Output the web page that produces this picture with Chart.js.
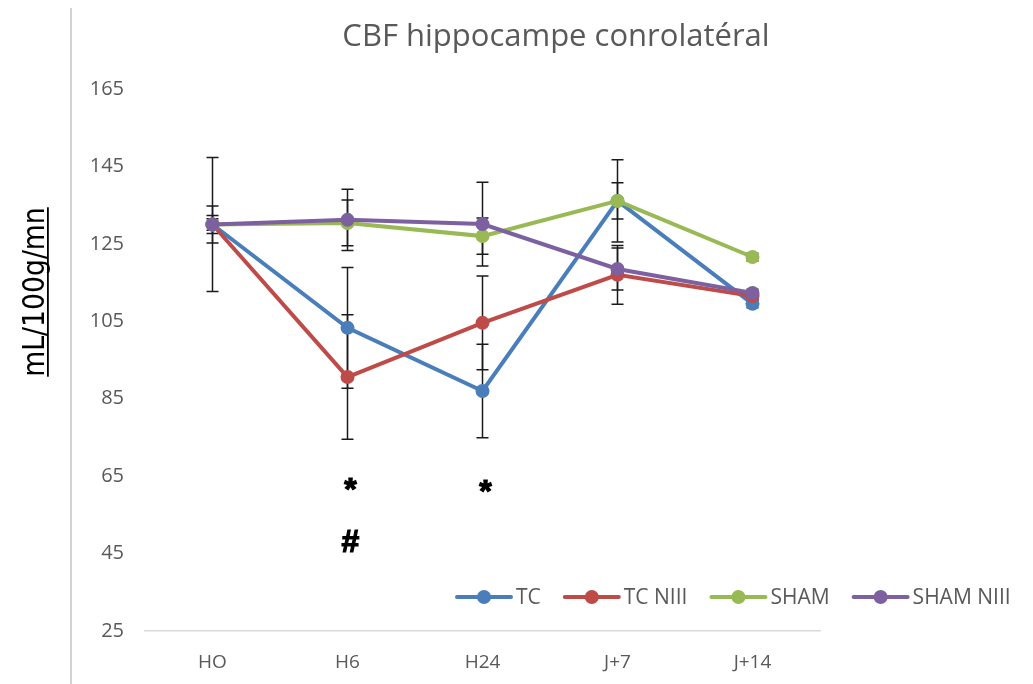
<!DOCTYPE html>
<html>
<head>
<meta charset="utf-8">
<script src="https://cdn.jsdelivr.net/npm/chart.js@4.4.1/dist/chart.umd.min.js"></script>
<style>
  body { margin: 0; background: #fff; }
  canvas { display: block; }
</style>
</head>
<body>
<canvas id="myChart" width="1033" height="684"></canvas>
<script>
// data
const categories = ['HO', 'H6', 'H24', 'J+7', 'J+14'];
const seriesNames = ['TC', 'TC NIII', 'SHAM', 'SHAM NIII'];
const tcValues = [130, 103.3, 87, 136.1, 109.5];
const tcNiiiValues = [130, 90.6, 104.6, 117, 111.5];
const shamValues = [130, 130.4, 127, 136.1, 121.6];
const shamNiiiValues = [130, 131.2, 130.1, 118.5, 112.3];
// +/- error for each point
const tcErrors = [17.3, 15.6, 12.1, 10.6, 1];
const tcNiiiErrors = [4.8, 16.1, 12.1, 7.6, 1];
const shamErrors = [2.3, 5.9, 4.7, 4.7, 1];
const shamNiiiErrors = [1.5, 7.9, 10.8, 5.4, 1];
const yTicks = [25, 45, 65, 85, 105, 125, 145, 165];
// significance marks under the points
const marks = ['*', '#', '*'];
const markCategories = ['H6', 'H6', 'H24'];
const markValues = [61.2, 47.8, 60.5];

const chartTitle = 'CBF hippocampe conrolatéral';
const yTitle = 'mL/100g/mn';
const colors = ['#4a7ebb', '#be4b48', '#98b954', '#7d60a0'];
const grey = '#595959';

const allValues = [tcValues, tcNiiiValues, shamValues, shamNiiiValues];
const allErrors = [tcErrors, tcNiiiErrors, shamErrors, shamNiiiErrors];

const data = {
  labels: categories,
  datasets: seriesNames.map((name, i) => ({
    label: name,
    data: allValues[i],
    errors: allErrors[i],
    borderColor: colors[i],
    backgroundColor: colors[i],
    pointBackgroundColor: colors[i],
    pointBorderColor: colors[i],
    borderWidth: 4,
    pointRadius: 7,
    pointBorderWidth: 0,
    tension: 0,
    order: 4 - i
  }))
};

// error bars, drawn under the lines
const errorBars = {
  id: 'errorBars',
  beforeDatasetsDraw(chart) {
    const ctx = chart.ctx;
    const x = chart.scales.x, y = chart.scales.y;
    ctx.save();
    ctx.strokeStyle = '#1a1a1a';
    ctx.lineWidth = 1.5;
    chart.data.datasets.forEach(ds => {
      ds.data.forEach((v, j) => {
        const px = x.getPixelForValue(j);
        const top = y.getPixelForValue(v + ds.errors[j]);
        const bot = y.getPixelForValue(v - ds.errors[j]);
        ctx.beginPath();
        ctx.moveTo(px, top); ctx.lineTo(px, bot);
        ctx.moveTo(px - 6, top); ctx.lineTo(px + 6, top);
        ctx.moveTo(px - 6, bot); ctx.lineTo(px + 6, bot);
        ctx.stroke();
      });
    });
    ctx.restore();
  }
};

// title, axis title, legend, marks and the grey rule on the left
const decorations = {
  id: 'decorations',
  afterDraw(chart) {
    const ctx = chart.ctx;
    const x = chart.scales.x, y = chart.scales.y;
    ctx.save();

    ctx.strokeStyle = '#d4d4d4';
    ctx.lineWidth = 2;
    ctx.beginPath();
    ctx.moveTo(71, 8); ctx.lineTo(71, 684);
    ctx.stroke();

    ctx.fillStyle = grey;
    ctx.font = '31px "Open Sans"';
    ctx.textAlign = 'center';
    ctx.textBaseline = 'middle';
    ctx.fillText(chartTitle, 556, 37);

    // y title, rotated, squeezed a bit and underlined
    ctx.save();
    ctx.translate(33, 292);
    ctx.rotate(-Math.PI / 2);
    ctx.scale(0.86, 1);
    ctx.fillStyle = '#000';
    ctx.font = '31px "DejaVu Sans", sans-serif';
    ctx.textAlign = 'center';
    ctx.textBaseline = 'alphabetic';
    ctx.fillText(yTitle, 0, 11);
    const w = ctx.measureText(yTitle).width;
    ctx.fillRect(-w / 2, 14, w, 1.8);
    ctx.restore();

    // marks
    ctx.fillStyle = '#000';
    ctx.strokeStyle = '#000';
    ctx.lineWidth = 1.2;
    ctx.font = 'bold 32px "Liberation Sans", sans-serif';
    ctx.textAlign = 'center';
    ctx.textBaseline = 'middle';
    marks.forEach((m, i) => {
      const px = x.getPixelForValue(categories.indexOf(markCategories[i]));
      const py = y.getPixelForValue(markValues[i]);
      ctx.fillText(m, px + 3, py);
      ctx.strokeText(m, px + 3, py);
    });

    // legend
    ctx.font = '21px "Open Sans"';
    ctx.textAlign = 'left';
    let lx = 457;
    const ly = 597;
    chart.data.datasets.forEach(ds => {
      ctx.strokeStyle = ds.borderColor;
      ctx.lineWidth = 4;
      ctx.lineCap = 'round';
      ctx.beginPath();
      ctx.moveTo(lx, ly); ctx.lineTo(lx + 54, ly);
      ctx.stroke();
      ctx.fillStyle = ds.borderColor;
      ctx.beginPath();
      ctx.arc(lx + 27, ly, 7, 0, Math.PI * 2);
      ctx.fill();
      ctx.fillStyle = grey;
      ctx.fillText(ds.label, lx + 59, ly + 1);
      lx += 59 + ctx.measureText(ds.label).width + 24;
    });
    ctx.restore();
  }
};

const config = {
  type: 'line',
  data,
  options: {
    responsive: false,
    animation: false,
    layout: { padding: { top: 89, right: 213, left: 0, bottom: 0 } },
    plugins: {
      legend: { display: false },
      title: { display: false },
      tooltip: { enabled: false }
    },
    scales: {
      x: {
        offset: true,
        grid: { display: false, drawTicks: false },
        border: { display: true, color: '#d9d9d9', width: 1.5 },
        ticks: { color: grey, font: { family: 'Open Sans', size: 19 }, padding: 20 },
        afterFit: s => { s.height = 53; }
      },
      y: {
        min: 25,
        max: 165,
        grid: { display: false, drawTicks: false },
        border: { display: false },
        afterBuildTicks: s => { s.ticks = yTicks.map(v => ({ value: v })); },
        ticks: { color: grey, font: { family: 'Open Sans', size: 20 }, padding: 21 },
        afterFit: s => { s.width = 145; }
      }
    }
  },
  plugins: [errorBars, decorations]
};

const myChart = new Chart(document.getElementById('myChart'), config);
</script>
</body>
</html>
